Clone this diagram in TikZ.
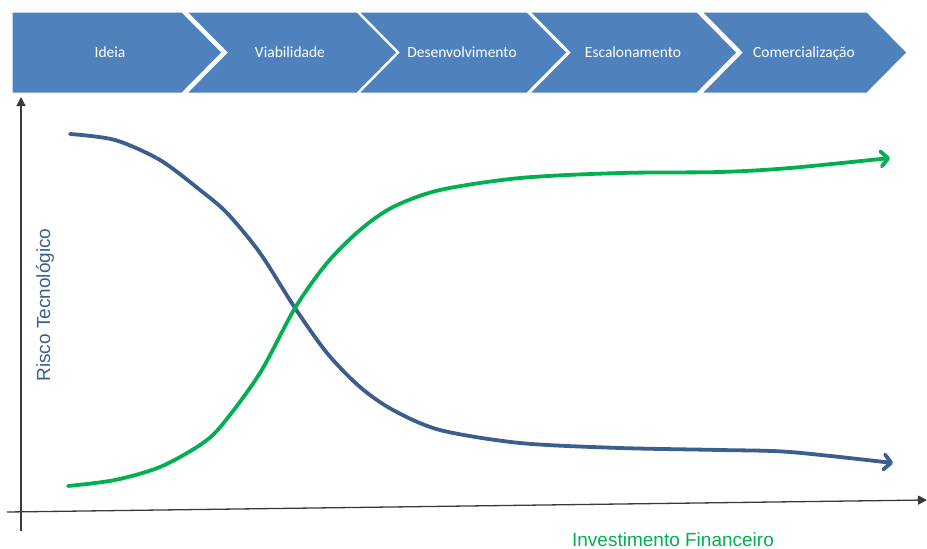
\documentclass[tikz,border=0pt]{standalone}
\usepackage{fontspec}
\setmainfont{Liberation Sans}
\newfontfamily\calibri{Carlito}
\usetikzlibrary{arrows.meta}
\definecolor{stageblue}{HTML}{4F81BD}
\definecolor{riskblue}{HTML}{3B5E8E}
\definecolor{investgreen}{HTML}{00B050}
\definecolor{axisgray}{HTML}{3A3A3A}
\tikzset{
  stagebox/.style={fill=stageblue, draw=white, line width=1pt},
  stagelabel/.style={text=white, font=\calibri\fontsize{15.5}{17}\selectfont, inner sep=0pt, anchor=base},
  axisline/.style={draw=axisgray, line width=1.3pt, -{Triangle[length=9pt,width=9pt]}},
  curveline/.style={line width=3.8pt, line cap=round, line join=round,
    -{Straight Barb[length=7pt,width=15pt,line join=round,line cap=round]}},
  axislabel/.style={font=\fontsize{19}{22}\selectfont, inner sep=0pt}
}
\begin{document}
\begin{tikzpicture}[x=1pt,y=-1pt]
\useasboundingbox (0,0) rectangle (927,549);
% stage chevrons
\filldraw[stagebox] (12,12) -- (182,12) -- (222,52.5) -- (182,93) -- (12,93) -- cycle;
\filldraw[stagebox] (187,12) -- (357,12) -- (397,52.5) -- (357,93) -- (187,93) -- (227,52.5) -- cycle;
\filldraw[stagebox] (359,12) -- (527,12) -- (567,52.5) -- (527,93) -- (359,93) -- (399,52.5) -- cycle;
\filldraw[stagebox] (530,12) -- (697,12) -- (737,52.5) -- (697,93) -- (530,93) -- (570,52.5) -- cycle;
\filldraw[stagebox] (702,12) -- (867,12) -- (907,52.5) -- (867,93) -- (702,93) -- (742,52.5) -- cycle;
\node[stagelabel] (s1) at (110,57.5) {Ideia};
\node[stagelabel] (s2) at (290,57.5) {Viabilidade};
\node[stagelabel] (s3) at (462,57.5) {Desenvolvimento};
\node[stagelabel] (s4) at (633,57.5) {Escalonamento};
\node[stagelabel] (s5) at (804,57.5) {Comercialização};
% axes
\coordinate (ybottom) at (21,531);
\coordinate (ytop) at (21,97);
\coordinate (xleft) at (7,512);
\coordinate (xright) at (927,500);
\draw[axisline] (ybottom) -- (ytop);
\draw[axisline] (xleft) -- (xright);
% axis labels
\node[axislabel, text=riskblue, rotate=90] (ylab) at (45,305) {Risco Tecnológico};
\node[axislabel, text=investgreen] (xlab) at (673,539.5) {Investimento Financeiro};
% technological risk curve
\draw[curveline, riskblue] plot[smooth, tension=0.5] coordinates {
  (70,134) (115,140) (160,160) (200,190) (227,213) (260,253) (295,308)
  (327,353) (360,387) (393,410) (440,430) (520,443) (620,448) (720,450)
  (790,452) (893,463)};
% financial investment curve
\draw[curveline, investgreen] plot[smooth, tension=0.5] coordinates {
  (68,486) (115,480) (160,467) (200,445) (222,425) (260,373) (295,308)
  (327,263) (360,230) (393,207) (440,190) (520,178) (620,173) (720,172)
  (790,168) (890,158)};
\end{tikzpicture}
\end{document}
